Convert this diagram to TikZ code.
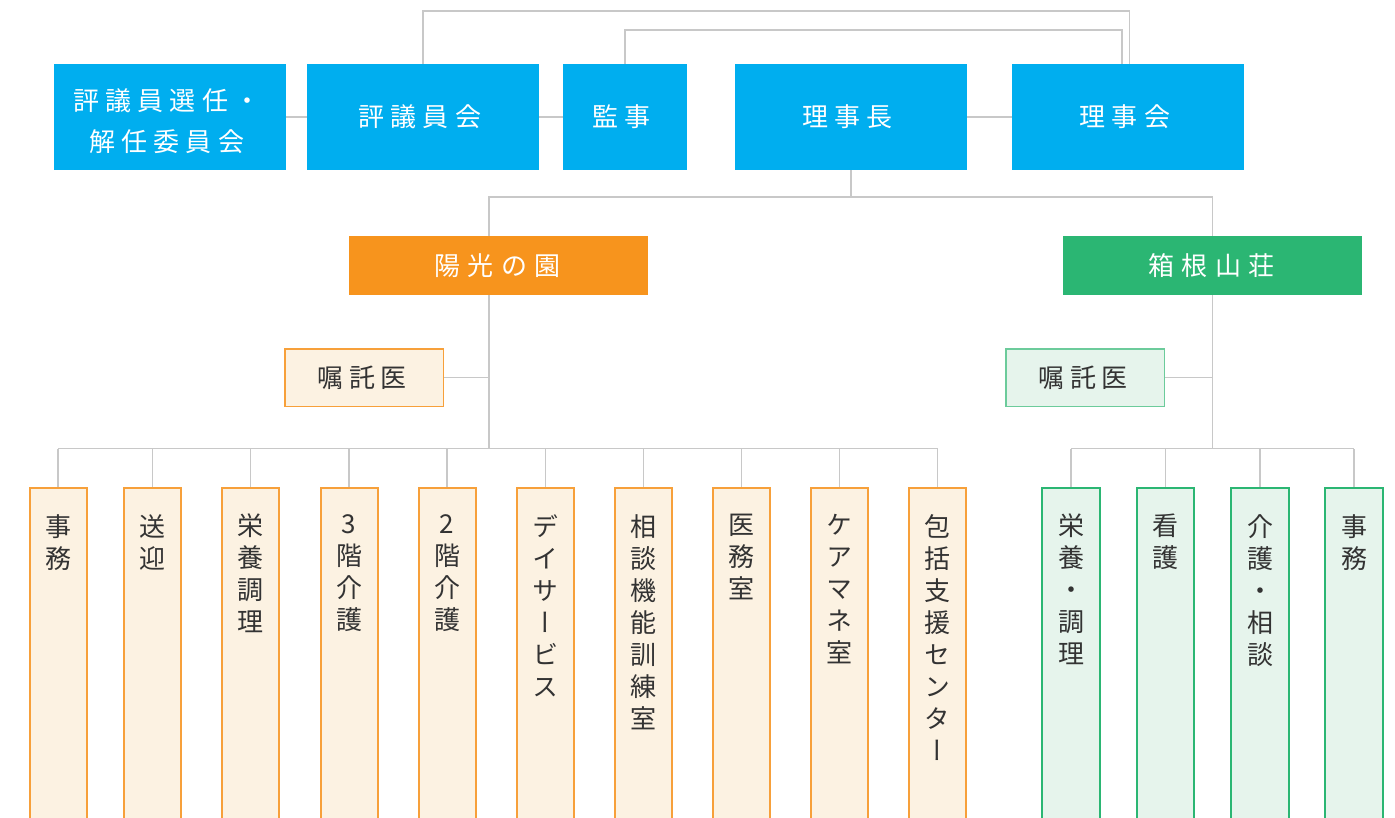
\documentclass[tikz,border=0pt]{standalone}
\usepackage{fontspec}
\setmainfont{Noto Sans CJK JP}
\definecolor{cblue}{HTML}{00AEEF}
\definecolor{corange}{HTML}{F7941D}
\definecolor{cgreen}{HTML}{2BB673}
\definecolor{lorange}{HTML}{FCF2E2}
\definecolor{borange}{HTML}{F7A03A}
\definecolor{lgreen}{HTML}{E6F4EC}
\definecolor{bgreen}{HTML}{6CCB9B}
\definecolor{cline}{HTML}{C8C8C8}
\definecolor{ctext}{HTML}{333333}
\newcommand\toptxt{\fontsize{26}{41}\selectfont\addfontfeature{LetterSpace=24}}
\newcommand\sitetxt{\fontsize{26}{41}\selectfont\addfontfeature{LetterSpace=28}}
\newcommand\doctxt{\fontsize{26}{32}\selectfont\addfontfeature{LetterSpace=22}}
\newcommand\coltxtfont{\fontsize{26}{32}\selectfont\addfontfeature{RawFeature=+vert}}
\newcommand\Kt{\kern-0.25em}
\newcommand\Ks{\kern-0.08em}
\newcommand\Kd{\kern-0.15em}
\tikzset{
  conn/.style={draw=cline, line width=1.5pt},
  topbox/.style={fill=cblue, text=white, minimum width=232pt, minimum height=106pt,
    inner sep=0pt, align=center, font=\toptxt},
  toptext/.style={text=white, inner sep=0pt, align=center, font=\toptxt},
  sitebox/.style={text=white, minimum width=299pt, minimum height=59pt,
    inner sep=0pt, align=center, font=\sitetxt},
  docbox/.style={line width=1.5pt, text=ctext, minimum width=158.5pt, minimum height=57.5pt,
    inner sep=0pt, align=center, font=\doctxt},
  ocol/.style={draw=borange, fill=lorange, line width=2pt, anchor=north,
    minimum width=57pt, minimum height=345pt, inner sep=0pt},
  gcol/.style={draw=cgreen, fill=lgreen, line width=2pt, anchor=north,
    minimum width=57.5pt, minimum height=345pt, inner sep=0pt},
  coltxt/.style={anchor=north, inner sep=0pt, align=center, text=ctext, font=\coltxtfont}
}
\begin{document}
\begin{tikzpicture}[x=1pt, y=-1pt]
\useasboundingbox (0,0) rectangle (1395,818);
\clip (0,0) rectangle (1395,818);
\fill[white] (0,0) rectangle (1395,818);

% top row
\node[topbox] (senin) at (170,117) {};
\node[toptext] (senintxt) at (170,121) {\Kt 評議員選任・\\\Kt 解任委員会};
\node[topbox] (hyogi) at (423,117) {\Kt 評議員会};
\node[topbox, minimum width=124pt] (kanji) at (625,117) {\Kt 監事};
\node[topbox] (richo) at (851,117) {\Kt 理事長};
\node[topbox] (rijikai) at (1128,117) {\Kt 理事会};

\draw[conn] (senin.east) -- (hyogi.west);
\draw[conn] (hyogi.east) -- (kanji.west);
\draw[conn] (richo.east) -- (rijikai.west);
\draw[conn] (hyogi.north) -- ++(0,-53) -| ([xshift=1.5pt]rijikai.north);
\draw[conn] (kanji.north) -- ++(0,-34) -| ([xshift=-6pt]rijikai.north);

% sites
\node[sitebox, fill=corange] (yoko) at (498.5,265.5) {\Ks 陽光の園};
\node[sitebox, fill=cgreen] (hakone) at (1212.5,265.5) {\Ks 箱根山荘};
\draw[conn] (richo.south) -- ++(0,27);
\draw[conn] ([xshift=-9.5pt]yoko.north) -- ++(0,-39) -| (hakone.north);
\draw[conn] ([xshift=-9.5pt]yoko.south) -- ++(0,153);
\draw[conn] (hakone.south) -- ++(0,153);

% doctors
\node[docbox, draw=borange, fill=lorange] (odoc) at (364,377.5) {\Kd 嘱託医};
\node[docbox, draw=bgreen, fill=lgreen] (gdoc) at (1085,377.5) {\Kd 嘱託医};
\draw[conn] (odoc.east) -- ++(45,0);
\draw[conn] (gdoc.east) -- ++(47.5,0);

% orange columns
\foreach \x/\t [count=\i] in {58/{事\\務}, 152.5/{送\\迎}, 250.5/{栄\\養\\調\\理},
  349/{3\\階\\介\\護}, 447/{2\\階\\介\\護}, 545.5/{デ\\イ\\サ\\ー\\ビ\\ス},
  643.5/{相\\談\\機\\能\\訓\\練\\室}, 741.5/{医\\務\\室}, 839.5/{ケ\\ア\\マ\\ネ\\室},
  937.5/{包\\括\\支\\援\\セ\\ン\\タ\\ー}}{
  \node[ocol] (o\i) at (\x,486.5) {};
  \node[coltxt] (ot\i) at (\x,514) {\t};
  \draw[conn] (o\i.north) -- ++(0,-38);
}
\draw[conn] ([yshift=38pt]o1.north) -- ([yshift=38pt]o10.north);

% green columns
\foreach \x/\t [count=\i] in {1071/{栄\\養\\・\\調\\理}, 1165.5/{看\\護},
  1260/{介\\護\\・\\相\\談}, 1354/{事\\務}}{
  \node[gcol] (g\i) at (\x,486.5) {};
  \node[coltxt] (gt\i) at (\x,514) {\t};
  \draw[conn] (g\i.north) -- ++(0,-38);
}
\draw[conn] ([yshift=38pt]g1.north) -- ([yshift=38pt]g4.north);
\end{tikzpicture}
\end{document}
